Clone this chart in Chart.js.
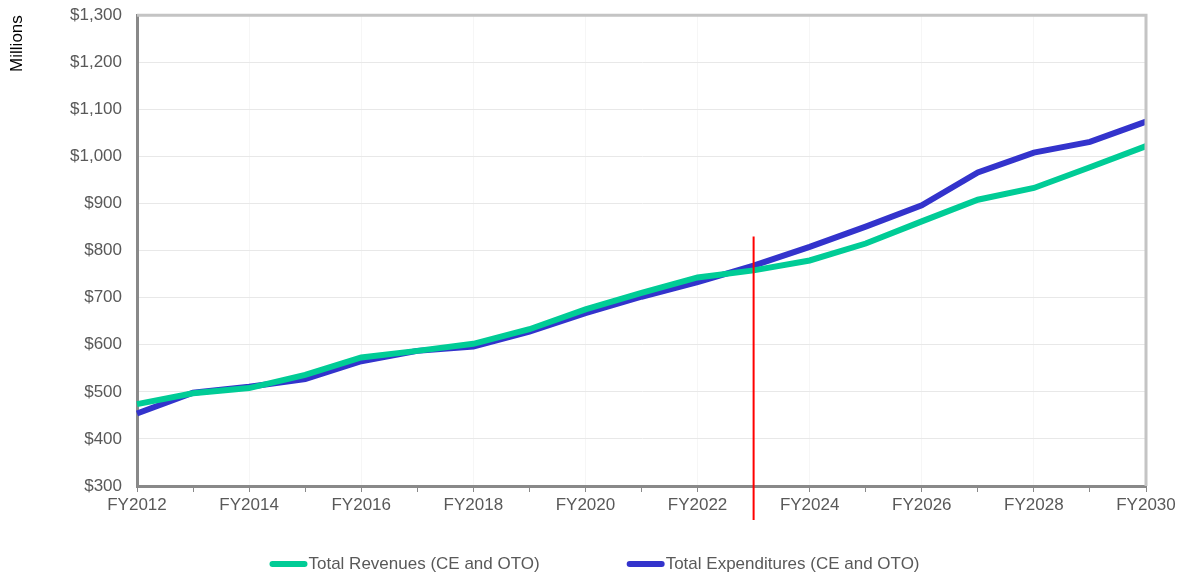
<!DOCTYPE html>
<html>
<head>
<meta charset="utf-8">
<script src="https://cdn.jsdelivr.net/npm/chart.js@4.4.0/dist/chart.umd.min.js"></script>
<style>
  html, body { margin: 0; padding: 0; background: #fff; }
  #wrap { width: 1183px; height: 574px; }
</style>
</head>
<body>
<div id="wrap"><canvas id="chart"></canvas></div>
<script>
// Годы
const years = ['FY2012','FY2013','FY2014','FY2015','FY2016','FY2017','FY2018','FY2019','FY2020','FY2021',
  'FY2022','FY2023','FY2024','FY2025','FY2026','FY2027','FY2028','FY2029','FY2030'];

// Доходы и расходы, млн
const revenues = [474, 497, 508, 536, 573, 587, 602, 633, 675, 710, 743, 758, 779, 815, 862, 908, 933, 977, 1022];
const expenditures = [454, 498, 511, 527, 565, 587, 596, 628, 667, 702, 733, 768, 808, 851, 896, 966, 1008, 1031, 1074];

// Красная отметка (текущий год)
const markerYear = 'FY2023';
const markerTop = 830;

const yMin = 300, yMax = 1300, yStep = 100;

const FONT = 'Liberation Sans, Arial';
const FONT_SIZE = 17;

// Рамка сверху и справа, красная линия и легенда снизу
const extras = {
  id: 'extras',
  afterDatasetsDraw(chart) {
    const ctx = chart.ctx, a = chart.chartArea;
    ctx.save();
    ctx.strokeStyle = '#c4c4c4';
    ctx.lineWidth = 3;
    ctx.beginPath();
    ctx.moveTo(a.left, a.top);
    ctx.lineTo(a.right, a.top);
    ctx.lineTo(a.right, a.bottom);
    ctx.stroke();

    const x = chart.scales.x.getPixelForValue(years.indexOf(markerYear));
    const yTop = chart.scales.y.getPixelForValue(markerTop);
    ctx.strokeStyle = '#ff0000';
    ctx.lineWidth = 2;
    ctx.beginPath();
    ctx.moveTo(x, yTop);
    ctx.lineTo(x, a.bottom + 34);
    ctx.stroke();

    // легенда
    ctx.font = FONT_SIZE + 'px ' + FONT;
    ctx.textBaseline = 'middle';
    ctx.textAlign = 'left';
    const boxW = 38, gapText = 1, gapItem = 87;
    const items = chart.data.datasets.map(d => ({ text: d.label, color: d.borderColor, w: boxW + gapText + ctx.measureText(d.label).width }));
    const total = items.reduce((s, it) => s + it.w, 0) + gapItem * (items.length - 1);
    let lx = chart.width / 2 - total / 2 + 3;
    const ly = chart.height - 10;
    items.forEach(it => {
      ctx.strokeStyle = it.color;
      ctx.lineWidth = 6;
      ctx.lineCap = 'round';
      ctx.beginPath();
      ctx.moveTo(lx + 3, ly);
      ctx.lineTo(lx + boxW - 3, ly);
      ctx.stroke();
      ctx.fillStyle = '#595959';
      ctx.fillText(it.text, lx + boxW + gapText, ly);
      lx += it.w + gapItem;
    });
    ctx.restore();
  }
};

const ctx = document.getElementById('chart').getContext('2d');
new Chart(ctx, {
  type: 'line',
  data: {
    labels: years,
    datasets: [{
      label: 'Total Revenues (CE and OTO)',
      data: revenues,
      borderColor: '#00cc96',
      backgroundColor: '#00cc96',
      borderWidth: 6,
      pointRadius: 0,
      tension: 0
    }, {
      label: 'Total Expenditures (CE and OTO)',
      data: expenditures,
      borderColor: '#3333cc',
      backgroundColor: '#3333cc',
      borderWidth: 6,
      pointRadius: 0,
      tension: 0
    }]
  },
  options: {
    responsive: true,
    maintainAspectRatio: false,
    animation: false,
    layout: { padding: { top: 0, right: 37, left: 4, bottom: 0 } },
    plugins: {
      tooltip: { enabled: false },
      legend: { display: false }
    },
    scales: {
      x: {
        offset: false,
        grid: {
          color: c => (c.index % 2 === 0 ? '#f6f6f6' : 'rgba(0,0,0,0)'),
          tickColor: '#898989',
          tickLength: 6,
          lineWidth: 1
        },
        border: { color: '#898989', width: 3 },
        ticks: {
          autoSkip: false,
          maxRotation: 0,
          color: '#595959',
          font: { family: FONT, size: FONT_SIZE },
          padding: 3,
          callback: function(v, i) { return i % 2 === 0 ? this.getLabelForValue(v) : ''; }
        },
        afterFit(scale) { scale.height = 88; }
      },
      y: {
        min: yMin,
        max: yMax,
        grid: { color: '#e8e8e8', drawTicks: true, tickLength: 10, tickColor: 'rgba(0,0,0,0)', lineWidth: 1 },
        border: { color: '#898989', width: 3 },
        ticks: {
          stepSize: yStep,
          color: '#595959',
          padding: 5,
          font: { family: FONT, size: FONT_SIZE },
          callback: v => '$' + v.toLocaleString('en-US')
        },
        title: {
          display: true,
          text: 'Millions',
          align: 'end',
          color: '#000',
          font: { family: FONT, size: FONT_SIZE },
          padding: { top: 3, bottom: 0 }
        },
        afterFit(scale) { scale.width = 133; }
      }
    }
  },
  plugins: [extras]
});
</script>
</body>
</html>
